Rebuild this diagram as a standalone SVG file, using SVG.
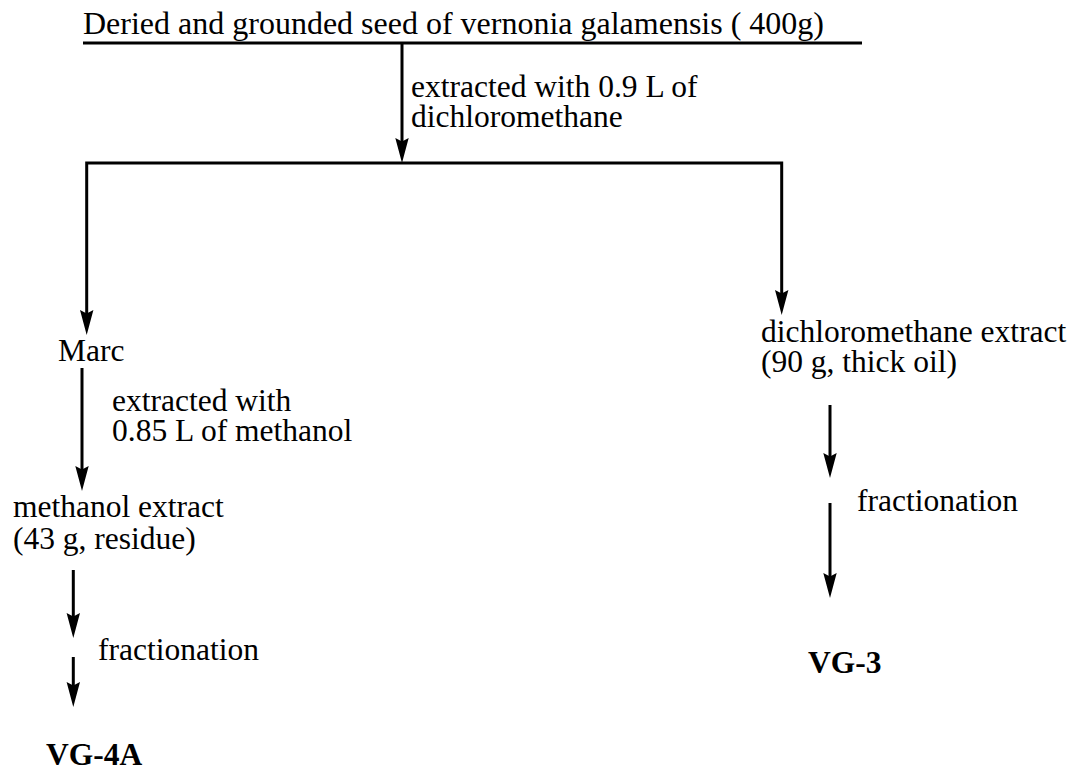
<svg xmlns="http://www.w3.org/2000/svg" width="1073" height="767" viewBox="0 0 1073 767">
<style>
text{font-family:'Liberation Serif',Tinos,'Times New Roman',Times,'DejaVu Serif',serif;font-size:31.5px;fill:#000}
.b{font-weight:bold}
.ln{stroke:#000;stroke-width:3;fill:none}
</style>
<defs>
<marker id="ah" markerUnits="userSpaceOnUse" markerWidth="26" markerHeight="14" viewBox="-25 -7 26 14" refX="-12" refY="0" orient="auto">
<path d="M0,0 L-25,-6.7 L-21.5,0 L-25,6.7 Z" fill="#000"/>
</marker>
</defs>
<rect width="1073" height="767" fill="#fff"/>
<g id="connectors">
<path class="ln" d="M402,43 V151" marker-end="url(#ah)"/>
<path class="ln" d="M402,163 H86.7 V323" marker-end="url(#ah)"/>
<path class="ln" d="M402,163 H781.7 V303" marker-end="url(#ah)"/>
<path class="ln" d="M82,368 V479" marker-end="url(#ah)"/>
<path class="ln" d="M73.3,570 V626" marker-end="url(#ah)"/>
<path class="ln" d="M73.3,657 V695" marker-end="url(#ah)"/>
<path class="ln" d="M830,405 V466" marker-end="url(#ah)"/>
<path class="ln" d="M830,503 V586" marker-end="url(#ah)"/>
</g>
<g font-family="Liberation Serif, serif">
<g id="seed">
<text x="83" y="34" textLength="741" lengthAdjust="spacingAndGlyphs">Deried and grounded seed of vernonia galamensis ( 400g)</text>
<line class="ln" x1="83" y1="43" x2="862" y2="43"/>
</g>
<g id="label-dcm">
<text x="411" y="97">extracted with 0.9 L of</text>
<text x="411" y="127">dichloromethane</text>
</g>
<g id="marc"><text x="58" y="361">Marc</text></g>
<g id="label-meoh">
<text x="112" y="411">extracted with</text>
<text x="112" y="441">0.85 L of methanol</text>
</g>
<g id="methanol-extract">
<text x="13" y="517">methanol extract</text>
<text x="13" y="549">(43 g, residue)</text>
</g>
<g id="label-frac-left"><text x="98" y="660">fractionation</text></g>
<g id="vg4a"><text class="b" x="46" y="765">VG-4A</text></g>
<g id="dcm-extract">
<text x="761" y="342">dichloromethane extract</text>
<text x="761" y="372">(90 g, thick oil)</text>
</g>
<g id="label-frac-right"><text x="857" y="511">fractionation</text></g>
<g id="vg3"><text class="b" x="808" y="673">VG-3</text></g>
</g>
</svg>
